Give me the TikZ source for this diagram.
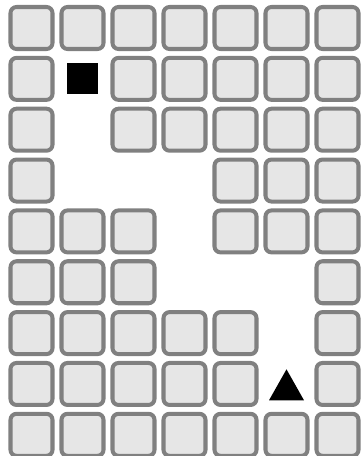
\documentclass[tikz,border=0pt]{standalone}
\tikzset{cell/.style={line width=2.9pt,draw={rgb,255:red,128;green,128;blue,128},fill={rgb,255:red,230;green,230;blue,230},rounded corners=.06in},marker/.style={fill=black,draw=none}}
\begin{document}
\begin{tikzpicture}[x=1in,y=-1in]
\path[use as bounding box] (0,0) rectangle (3.62,4.56);
% row 0
\draw[cell] (0.10500,0.07000) rectangle (0.52500,0.49000);
\draw[cell] (0.61500,0.07000) rectangle (1.03500,0.49000);
\draw[cell] (1.12500,0.07000) rectangle (1.54500,0.49000);
\draw[cell] (1.63500,0.07000) rectangle (2.05500,0.49000);
\draw[cell] (2.14500,0.07000) rectangle (2.56500,0.49000);
\draw[cell] (2.65500,0.07000) rectangle (3.07500,0.49000);
\draw[cell] (3.16500,0.07000) rectangle (3.58500,0.49000);
% row 1
\draw[cell] (0.10500,0.57850) rectangle (0.52500,0.99850);
\draw[cell] (1.12500,0.57850) rectangle (1.54500,0.99850);
\draw[cell] (1.63500,0.57850) rectangle (2.05500,0.99850);
\draw[cell] (2.14500,0.57850) rectangle (2.56500,0.99850);
\draw[cell] (2.65500,0.57850) rectangle (3.07500,0.99850);
\draw[cell] (3.16500,0.57850) rectangle (3.58500,0.99850);
% row 2
\draw[cell] (0.10500,1.08700) rectangle (0.52500,1.50700);
\draw[cell] (1.12500,1.08700) rectangle (1.54500,1.50700);
\draw[cell] (1.63500,1.08700) rectangle (2.05500,1.50700);
\draw[cell] (2.14500,1.08700) rectangle (2.56500,1.50700);
\draw[cell] (2.65500,1.08700) rectangle (3.07500,1.50700);
\draw[cell] (3.16500,1.08700) rectangle (3.58500,1.50700);
% row 3
\draw[cell] (0.10500,1.59550) rectangle (0.52500,2.01550);
\draw[cell] (2.14500,1.59550) rectangle (2.56500,2.01550);
\draw[cell] (2.65500,1.59550) rectangle (3.07500,2.01550);
\draw[cell] (3.16500,1.59550) rectangle (3.58500,2.01550);
% row 4
\draw[cell] (0.10500,2.10400) rectangle (0.52500,2.52400);
\draw[cell] (0.61500,2.10400) rectangle (1.03500,2.52400);
\draw[cell] (1.12500,2.10400) rectangle (1.54500,2.52400);
\draw[cell] (2.14500,2.10400) rectangle (2.56500,2.52400);
\draw[cell] (2.65500,2.10400) rectangle (3.07500,2.52400);
\draw[cell] (3.16500,2.10400) rectangle (3.58500,2.52400);
% row 5
\draw[cell] (0.10500,2.61250) rectangle (0.52500,3.03250);
\draw[cell] (0.61500,2.61250) rectangle (1.03500,3.03250);
\draw[cell] (1.12500,2.61250) rectangle (1.54500,3.03250);
\draw[cell] (3.16500,2.61250) rectangle (3.58500,3.03250);
% row 6
\draw[cell] (0.10500,3.12100) rectangle (0.52500,3.54100);
\draw[cell] (0.61500,3.12100) rectangle (1.03500,3.54100);
\draw[cell] (1.12500,3.12100) rectangle (1.54500,3.54100);
\draw[cell] (1.63500,3.12100) rectangle (2.05500,3.54100);
\draw[cell] (2.14500,3.12100) rectangle (2.56500,3.54100);
\draw[cell] (3.16500,3.12100) rectangle (3.58500,3.54100);
% row 7
\draw[cell] (0.10500,3.62950) rectangle (0.52500,4.04950);
\draw[cell] (0.61500,3.62950) rectangle (1.03500,4.04950);
\draw[cell] (1.12500,3.62950) rectangle (1.54500,4.04950);
\draw[cell] (1.63500,3.62950) rectangle (2.05500,4.04950);
\draw[cell] (2.14500,3.62950) rectangle (2.56500,4.04950);
\draw[cell] (3.16500,3.62950) rectangle (3.58500,4.04950);
% row 8
\draw[cell] (0.10500,4.13800) rectangle (0.52500,4.55800);
\draw[cell] (0.61500,4.13800) rectangle (1.03500,4.55800);
\draw[cell] (1.12500,4.13800) rectangle (1.54500,4.55800);
\draw[cell] (1.63500,4.13800) rectangle (2.05500,4.55800);
\draw[cell] (2.14500,4.13800) rectangle (2.56500,4.55800);
\draw[cell] (2.65500,4.13800) rectangle (3.07500,4.55800);
\draw[cell] (3.16500,4.13800) rectangle (3.58500,4.55800);
% square and triangle
\path[marker] (0.67000,0.63350) rectangle (0.98000,0.94350);
\path[marker] (2.86500,3.69300) -- (3.04000,4.00300) -- (2.69000,4.00300) -- cycle;
\end{tikzpicture}
\end{document}
